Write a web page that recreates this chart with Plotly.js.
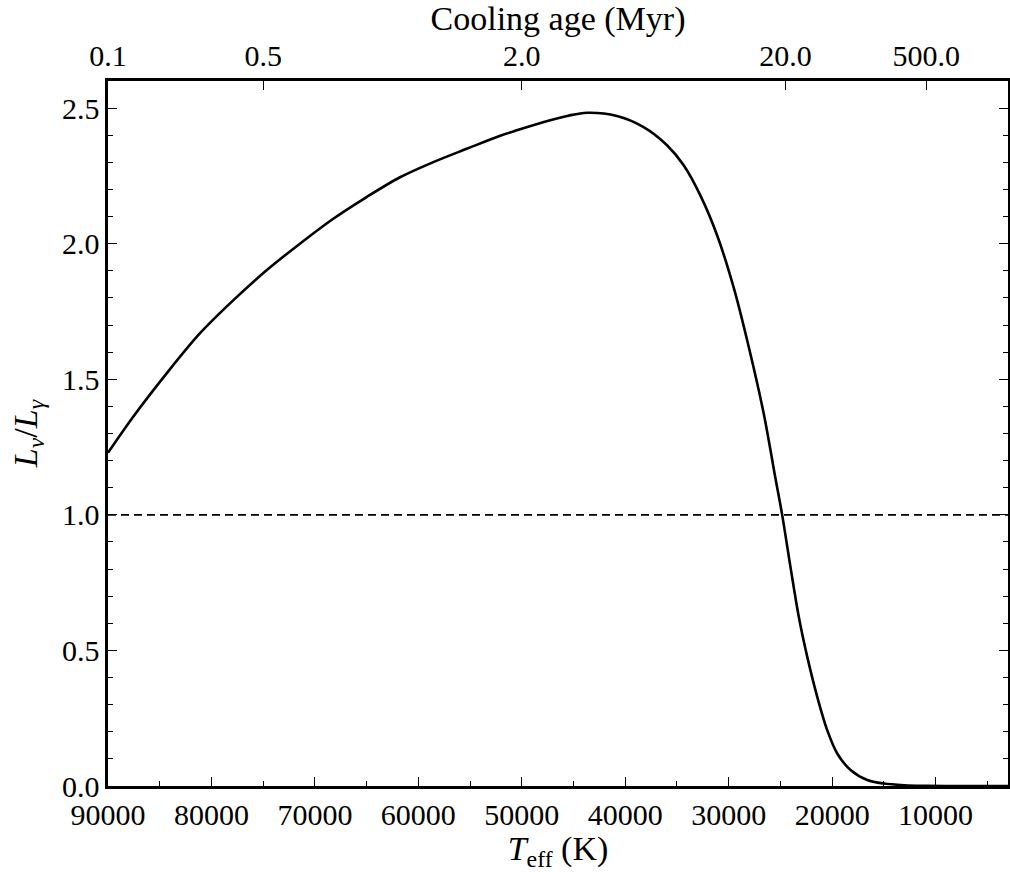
<!DOCTYPE html>
<html>
<head>
<meta charset="utf-8">
<script src="https://cdn.plot.ly/plotly-3.0.1.min.js"></script>
<style>
html,body{margin:0;padding:0;background:#fff;}
#chart{width:1010px;height:872px;}
#chart text{font-family:'Liberation Serif' !important;}
</style>
</head>
<body>
<div id="chart"></div>
<script>
// Effective temperature (K) and neutrino-to-photon luminosity ratio
var teff = [90000, 87580, 84350, 81125, 77900, 74670, 71450, 68225, 65000, 61770,
            58550, 55320, 52090, 50480, 47255, 45500, 43700, 40800, 38225, 35960,
            34350, 32740, 31120, 29515, 28065, 26610, 25480, 24830, 24030, 23225,
            22410, 21440, 20475, 19510, 18220, 16610, 15000, 13000, 11000, 8000, 3000];
var ratio = [1.229, 1.361, 1.521, 1.669, 1.791, 1.902, 2.000, 2.092, 2.172, 2.245,
             2.301, 2.350, 2.398, 2.418, 2.455, 2.472, 2.483, 2.471, 2.430, 2.363,
             2.289, 2.178, 2.031, 1.838, 1.620, 1.373, 1.135, 1.000, 0.808, 0.624,
             0.477, 0.329, 0.206, 0.120, 0.059, 0.022, 0.009, 0.003, 0.001, 0.000, 0.000];

// Reference line L_nu = L_gamma
var refX = [90000, 3000];
var refY = [1, 1];

// Top axis: cooling age labels at the corresponding Teff
var ageTeff = [90000, 75000, 50000, 24500, 10900];
var ageLabels = ['0.1', '0.5', '2.0', '20.0', '500.0'];

var xRange = [90000, 3000];
var FONT = 'Liberation Serif';

var traces = [
  {x: teff, y: ratio, type: 'scatter', mode: 'lines',
   line: {color: '#000', width: 2.6, shape: 'spline', smoothing: 0.9},
   hoverinfo: 'skip', showlegend: false},
  {x: refX, y: refY, type: 'scatter', mode: 'lines', xaxis: 'x2',
   line: {color: '#000', width: 1.6, dash: '8px,5px'},
   hoverinfo: 'skip', showlegend: false}
];

var layout = {
  width: 1010, height: 872,
  margin: {l: 108, r: 2, t: 81, b: 86, pad: 0},
  paper_bgcolor: '#fff', plot_bgcolor: '#fff',
  font: {family: FONT, size: 30, color: '#000'},
  showlegend: false,
  xaxis: {
    range: xRange, autorange: false,
    tick0: 0, dtick: 10000, tickformat: 'd',
    ticks: 'inside', ticklen: 9, tickwidth: 1, tickcolor: '#000',
    minor: {ticks: 'inside', dtick: 5000, tick0: 0, ticklen: 5, tickwidth: 1, tickcolor: '#000', showgrid: false},
    showgrid: false, zeroline: false,
    showline: true, linewidth: 2.6, linecolor: '#000', mirror: true,
    tickfont: {family: FONT, size: 30, color: '#000'},
    title: {text: '<i>T</i><sub>eff</sub> (K)', font: {family: FONT, size: 34, color: '#000'}, standoff: 6}
  },
  xaxis2: {
    overlaying: 'x', side: 'top', anchor: 'y',
    range: xRange, autorange: false,
    tickmode: 'array', tickvals: ageTeff, ticktext: ageLabels,
    ticks: 'inside', ticklen: 9, tickwidth: 1, tickcolor: '#000',
    showgrid: false, zeroline: false,
    showline: true, linewidth: 2.6, linecolor: '#000',
    tickfont: {family: FONT, size: 30, color: '#000'},
    title: {text: 'Cooling age (Myr)', font: {family: FONT, size: 34, color: '#000'}, standoff: 4}
  },
  yaxis: {
    range: [0, 2.6], autorange: false,
    tick0: 0, dtick: 0.5, tickformat: '.1f',
    ticks: 'inside', ticklen: 9, tickwidth: 1, tickcolor: '#000',
    minor: {ticks: 'inside', dtick: 0.1, tick0: 0, ticklen: 5, tickwidth: 1, tickcolor: '#000', showgrid: false},
    showgrid: false, zeroline: false,
    showline: true, linewidth: 2.6, linecolor: '#000', mirror: 'ticks',
    tickfont: {family: FONT, size: 30, color: '#000'},
    title: {text: '<i>L</i><sub><i>ν</i></sub>/<i>L</i><sub><i>γ</i></sub>', font: {family: FONT, size: 34, color: '#000'}, standoff: 14}
  }
};

Plotly.newPlot('chart', traces, layout, {displayModeBar: false, staticPlot: true});
</script>
</body>
</html>
